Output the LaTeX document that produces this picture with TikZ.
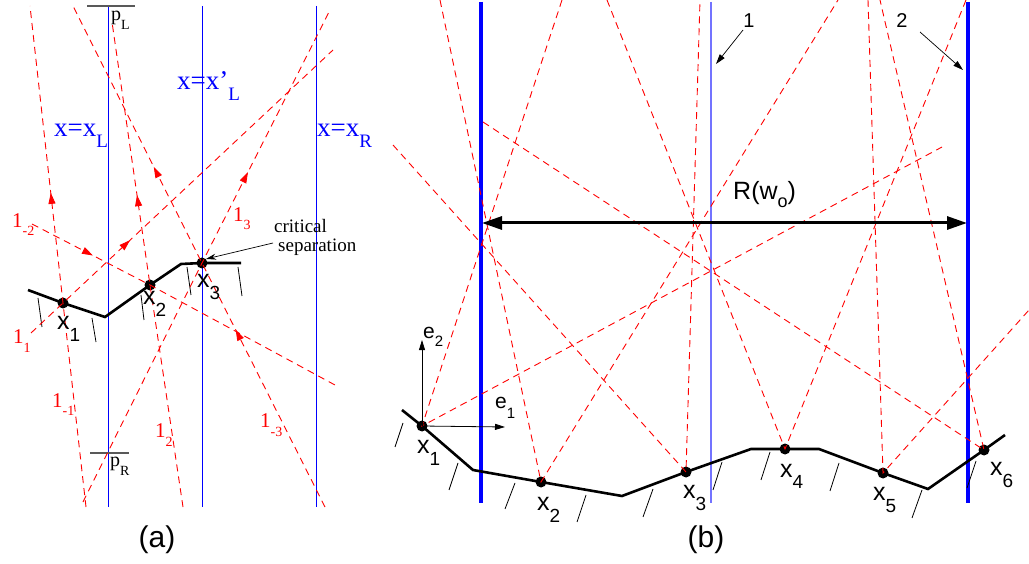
\documentclass[tikz,border=0pt]{standalone}
\usepackage{fontspec}
\setmainfont{Liberation Serif}
\setsansfont{Liberation Sans}
\usetikzlibrary{arrows.meta,decorations.markings}
\newcommand\fsz[1]{\fontsize{#1}{#1}\selectfont}
\newcommand\lsub[3]{\raisebox{-#2pt}{\fsz{#1}#3}}
\begin{document}
\begin{tikzpicture}[x=1pt,y=-1pt,
  ray/.style={red, line width=0.9pt, dash pattern=on 7pt off 5pt},
  rayarr/.style={postaction={decorate}, decoration={markings, mark=at position #1 with {\arrow{Triangle[length=11pt,width=7pt]}}}},
  rayarrtwo/.style 2 args={postaction={decorate}, decoration={markings,
     mark=at position #1 with {\arrow{Triangle[length=11pt,width=7pt]}},
     mark=at position #2 with {\arrow{Triangle[length=11pt,width=7pt]}}}},
  dot/.style={circle, fill=black, minimum size=11pt, inner sep=0pt},
  ground/.style={black, line width=2.6pt},
  hatch/.style={black, line width=0.8pt},
  lbl/.style={inner sep=0pt, anchor=base west},
  ptl/.style={lbl, font=\sffamily\fsz{25}},
  redl/.style={lbl, red, font=\fsz{21}},
  bluel/.style={lbl, blue, font=\fsz{27}},
  thinblue/.style={blue, line width=1.0pt},
  thickblue/.style={blue, line width=3.5pt},
  paleblue/.style={blue!55, line width=1.2pt},
  tick/.style={black!65, line width=1.4pt},
  smallarr/.style={black, line width=0.7pt, -{Stealth[length=10pt,width=6pt]}},
  axarr/.style={black, line width=0.8pt, -{Triangle[length=10pt,width=6pt]}}
]
\useasboundingbox (0,0) rectangle (1029,564);
\fill[white] (0,0) rectangle (1029,564);

% ================= panel (a) =================
\coordinate (xLt) at (108,6);   \coordinate (xLb) at (108,507);
\coordinate (xLpt) at (202,6);  \coordinate (xLpb) at (202,507);
\coordinate (xRt) at (316,6);   \coordinate (xRb) at (316,507);
\draw[thinblue] (xLt) -- (xLb);
\draw[thinblue] (xLpt) -- (xLpb);
\draw[thinblue] (xRt) -- (xRb);
\coordinate (pLa) at (87,6);   \coordinate (pLb) at (135,6);
\coordinate (pRa) at (90,453); \coordinate (pRb) at (129,453);
\draw[tick] (pLa) -- (pLb);
\draw[tick] (pRa) -- (pRb);
\node[lbl, font=\fsz{20}] (pLlab) at (111,21) {p\lsub{14}{9}{L}};
\node[lbl, font=\fsz{20}] (pRlab) at (110,466) {p\lsub{14}{9}{R}};

\node[bluel] (lxL) at (54,137) {x=x\lsub{19}{11}{L}};
\node[bluel] (lxLp) at (177,90) {x=x'\lsub{19}{11}{L}};
\node[bluel] (lxR) at (317,137) {x=x\lsub{19}{11}{R}};

% ground (a)
\coordinate (ga0) at (28,290);
\coordinate (ga1) at (105,317);
\coordinate (ga2) at (181,264);
\coordinate (ga3) at (241,263);
\node[dot] (a1) at (63,303) {};
\node[dot] (a2) at (150,285) {};
\node[dot] (a3) at (202,263) {};
\draw[ground] (ga0) -- (a1.center) -- (ga1) -- (a2.center) -- (ga2) -- (a3.center) -- (ga3);
\coordinate (ha1) at (38,298);  \coordinate (hb1) at (42,327);
\coordinate (ha2) at (92,318);  \coordinate (hb2) at (96,342);
\coordinate (ha3) at (141,295); \coordinate (hb3) at (144,320);
\coordinate (ha4) at (187,267); \coordinate (hb4) at (191,295);
\coordinate (ha5) at (238,267); \coordinate (hb5) at (242,296);
\foreach \i in {1,...,5}{\draw[hatch] (ha\i) -- (hb\i);}

% red rays (a)
\coordinate (r1s) at (86,507);  \coordinate (r1e) at (30,6);
\coordinate (r2s) at (31,333);  \coordinate (r2e) at (333,50);
\coordinate (r3s) at (32,224);  \coordinate (r3e) at (335,385);
\coordinate (r4s) at (183,507); \coordinate (r4e) at (112,22);
\coordinate (r5s) at (83,502);  \coordinate (r5e) at (330,10);
\coordinate (r6s) at (325,507); \coordinate (r6e) at (73,6);
\draw[ray, rayarr=0.627] (r1s) -- (a1.center) -- (r1e);
\draw[ray, rayarr=0.328] (r2s) -- (a1.center) -- (r2e);
\draw[ray, rayarr=0.20]  (r3s) -- (a2.center) -- (r3e);
\draw[ray, rayarr=0.643] (r4s) -- (a2.center) -- (r4e);
\draw[ray, rayarr=0.670] (r5s) -- (a3.center) -- (r5e);
\draw[ray, rayarrtwo={0.354}{0.679}] (r6s) -- (a3.center) -- (r6e);

\node[redl] (lm2) at (12,228) {1\lsub{14}{8}{-2}};
\node[redl] (l1)  at (13,344) {1\lsub{14}{9}{1}};
\node[redl] (lm1) at (52,407) {1\lsub{14}{8}{-1}};
\node[redl] (l2)  at (155,437) {1\lsub{14}{9}{2}};
\node[redl] (l3)  at (233,222) {1\lsub{14}{8}{3}};
\node[redl] (lm3) at (260,427) {1\lsub{14}{9}{-3}};

\node[ptl] (ax1) at (57,330) {x\lsub{19}{12}{1}};
\node[ptl] (ax2) at (143,305) {x\lsub{19}{12}{2}};
\node[ptl] (ax3) at (197,288) {x\lsub{19}{12}{3}};

\node[lbl, font=\fsz{19}] (crit1) at (274,233) {critical};
\node[lbl, font=\fsz{19}] (crit2) at (278,252) {separation};
\coordinate (critfrom) at (273,243);
\draw[smallarr] (critfrom) -- (a3.north east);

\node[font=\sffamily\fsz{30}] (capa) at (157,540) {(a)};

% ================= panel (b) =================
\coordinate (v1t) at (481,2);  \coordinate (v1b) at (481,503);
\coordinate (v2t) at (711,2);  \coordinate (v2b) at (711,503);
\coordinate (v3t) at (968,2);  \coordinate (v3b) at (968,503);
\draw[thickblue] (v1t) -- (v1b);
\draw[paleblue] (v2t) -- (v2b);
\draw[thickblue] (v3t) -- (v3b);

\coordinate (gb0) at (402,410);
\coordinate (gb1) at (473,470);
\coordinate (gb2) at (622,496);
\coordinate (gb3) at (751,449);
\coordinate (gb4) at (819,449);
\coordinate (gb5) at (928,489);
\coordinate (gb6) at (1005,435);
\node[dot] (b1) at (422,426) {};
\node[dot] (b2) at (541,482) {};
\node[dot] (b3) at (686,472) {};
\node[dot] (b4) at (785,449) {};
\node[dot] (b5) at (883,473) {};
\node[dot] (b6) at (984,450) {};
\draw[ground] (gb0) -- (b1.center) -- (gb1) -- (b2.center) -- (gb2) -- (b3.center) -- (gb3) -- (b4.center) -- (gb4) -- (b5.center) -- (gb5) -- (b6.center) -- (gb6);

\coordinate (hc1) at (403,423);  \coordinate (hd1) at (395,447);
\coordinate (hc2) at (458,463);  \coordinate (hd2) at (449,490);
\coordinate (hc3) at (515,483);  \coordinate (hd3) at (505,509);
\coordinate (hc4) at (586,495);  \coordinate (hd4) at (577,522);
\coordinate (hc5) at (653,489);  \coordinate (hd5) at (643,517);
\coordinate (hc6) at (722,462);  \coordinate (hd6) at (713,490);
\coordinate (hc7) at (770,452);  \coordinate (hd7) at (761,480);
\coordinate (hc8) at (839,463);  \coordinate (hd8) at (830,491);
\coordinate (hc9) at (922,490);  \coordinate (hd9) at (912,518);
\coordinate (hc10) at (976,461); \coordinate (hd10) at (967,488);
\foreach \i in {1,...,10}{\draw[hatch] (hc\i) -- (hd\i);}

\coordinate (t1a) at (562,0);   \coordinate (t1b) at (942,147);
\coordinate (t2a) at (440,0);   \coordinate (t2b) at (838,0);
\coordinate (t3a) at (393,145); \coordinate (t3b) at (700,0);
\coordinate (t4a) at (607,0);   \coordinate (t4b) at (966,0);
\coordinate (t5a) at (868,0);   \coordinate (t5b) at (1029,310);
\coordinate (t6a) at (483,122); \coordinate (t6b) at (880,0);
\draw[ray] (t1a) -- (b1.center) -- (t1b);
\draw[ray] (t2a) -- (b2.center) -- (t2b);
\draw[ray] (t3a) -- (b3.center) -- (t3b);
\draw[ray] (t4a) -- (b4.center) -- (t4b);
\draw[ray] (t5a) -- (b5.center) -- (t5b);
\draw[ray] (t6a) -- (b6.center) -- (t6b);

\coordinate (rl) at (482,223); \coordinate (rr) at (967,223);
\draw[line width=3pt, {Triangle[length=20pt,width=13pt]}-{Triangle[length=20pt,width=13pt]}] (rl) -- (rr);
\node[lbl, font=\sffamily\fsz{25}] (Rlab) at (733,200) {R(w\lsub{18}{8}{o})};

\node[font=\sffamily\fsz{20}] (n1) at (749,21) {1};
\node[font=\sffamily\fsz{20}] (n2) at (902,21) {2};
\coordinate (n1s) at (743,30); \coordinate (n1e) at (716,64);
\coordinate (n2s) at (920,32); \coordinate (n2e) at (963,70);
\draw[axarr, line width=0.7pt] (n1s) -- (n1e);
\draw[axarr, line width=0.7pt] (n2s) -- (n2e);

\coordinate (e2end) at (422,340);
\coordinate (e1end) at (505,427);
\draw[axarr] (b1.center) -- (e2end);
\draw[axarr] (b1.center) -- (e1end);
\node[lbl, font=\sffamily\fsz{21}] (e2lab) at (423,338) {e\lsub{15}{9}{2}};
\node[lbl, font=\sffamily\fsz{21}] (e1lab) at (495,408) {e\lsub{15}{10}{1}};

\node[ptl] (bx1) at (417,453) {x\lsub{19}{12}{1}};
\node[ptl] (bx2) at (537,510) {x\lsub{19}{12}{2}};
\node[ptl] (bx3) at (683,498) {x\lsub{19}{12}{3}};
\node[ptl] (bx4) at (780,477) {x\lsub{19}{11}{4}};
\node[ptl] (bx5) at (873,500) {x\lsub{19}{12}{5}};
\node[ptl] (bx6) at (990,475) {x\lsub{19}{12}{6}};

\node[font=\sffamily\fsz{30}] (capb) at (706,540) {(b)};
\end{tikzpicture}
\end{document}
